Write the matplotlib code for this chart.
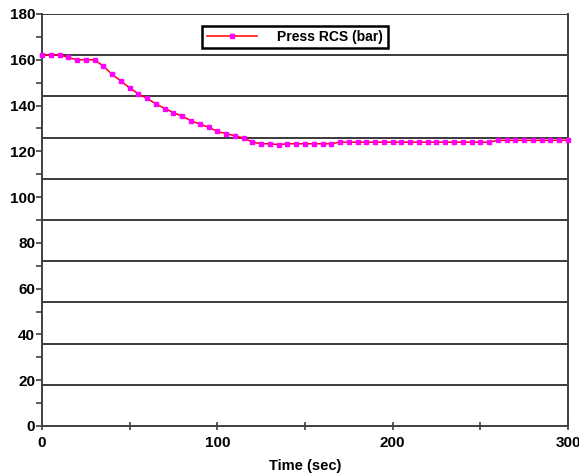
import numpy as np
import matplotlib.pyplot as plt
from matplotlib.ticker import MultipleLocator

# Pressao RCS, amostras a cada 5 s
time_s = np.arange(0, 305, 5)
press_rcs = [
    162.1, 162.1, 162.1, 161.0, 160.0, 160.0, 160.0, 157.2, 153.6, 150.7,
    147.7, 145.1, 143.1, 140.7, 138.7, 136.9, 135.3, 133.4, 131.9, 130.5,
    128.7, 127.7, 126.8, 125.8, 124.0, 123.3, 123.3, 122.9, 123.3, 123.3,
    123.3, 123.3, 123.3, 123.3, 124.0, 124.0, 124.0, 124.0, 124.0, 124.0,
    124.0, 124.0, 124.0, 124.0, 124.0, 124.0, 124.0, 124.0, 124.0, 124.0,
    124.0, 124.0, 124.8, 124.8, 124.8, 124.8, 124.8, 124.8, 124.8, 124.8,
    124.8,
]
grid_levels = np.arange(18, 181, 18)

plt.rcParams['font.family'] = 'Liberation Sans'
plt.rcParams['font.weight'] = 'bold'

fig = plt.figure(figsize=(5.79, 4.74), dpi=100)
ax = fig.add_axes([0.0725, 0.1013, 0.9085, 0.8692])

for lv in grid_levels:
    ax.axhline(lv, color='#3a3a3a', lw=1.4, zorder=1)

ax.plot(time_s, press_rcs, color='red', lw=1.1, marker='s', markersize=2.5,
        markerfacecolor='#ff00ff', markeredgecolor='#ff00ff',
        label='Press RCS (bar)', zorder=3, clip_on=False)

ax.set_xlim(0, 300)
ax.set_ylim(0, 180)
ax.xaxis.set_major_locator(MultipleLocator(100))
ax.xaxis.set_minor_locator(MultipleLocator(50))
ax.yaxis.set_major_locator(MultipleLocator(20))
ax.yaxis.set_minor_locator(MultipleLocator(10))

for side in ['left', 'bottom', 'right']:
    ax.spines[side].set_color('#404040')
    ax.spines[side].set_linewidth(1.4)
ax.spines['top'].set_visible(False)

ax.tick_params(axis='both', which='both', color='#404040', width=1.2,
               labelsize=11, labelcolor='black')
ax.tick_params(axis='y', which='both', direction='out', length=4, pad=1)
ax.tick_params(axis='x', which='both', direction='inout', length=6, pad=4)

ax.set_xlabel('Time (sec)', fontsize=10.5, fontweight='bold', labelpad=7)

leg = ax.legend(loc='upper center', bbox_to_anchor=(0.481, 0.988),
                fancybox=False, framealpha=1, edgecolor='black',
                fontsize=10, handlelength=3.6, borderpad=0.3,
                handletextpad=1.5)
leg.get_frame().set_linewidth(1.8)

fig.savefig('out.png', dpi=100)
